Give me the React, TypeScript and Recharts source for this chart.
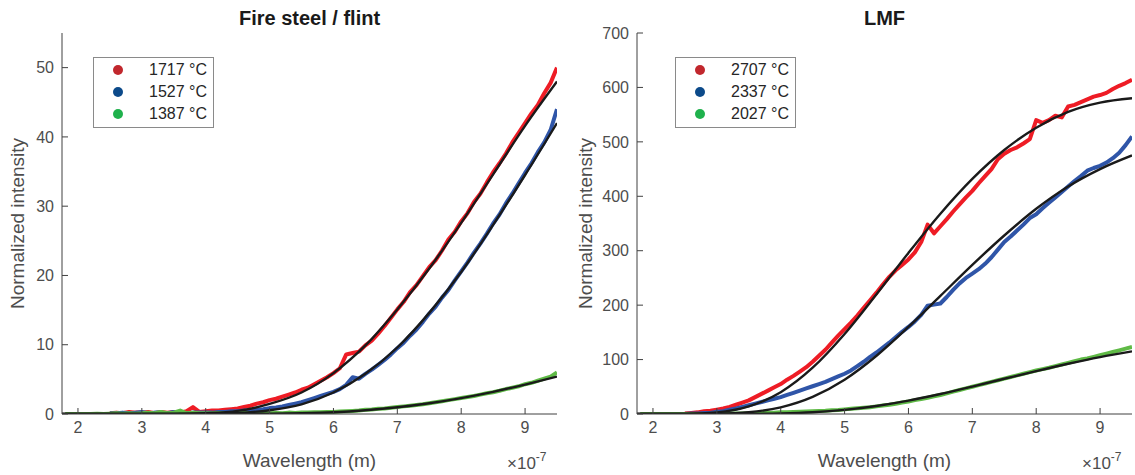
import React from 'react';
import { ComposedChart, Line, XAxis, YAxis, Legend } from 'recharts';

// wavelength grids (×1e-7 m)
const wlData = [2.5,2.6,2.7,2.8,2.9,3.0,3.1,3.2,3.3,3.4,3.5,3.6,3.7,3.8,3.9,4.0,4.1,4.2,4.3,4.4,4.5,4.6,4.7,4.8,4.9,5.0,5.1,5.2,5.3,5.4,5.5,5.6,5.7,5.8,5.9,6.0,6.1,6.2,6.3,6.4,6.5,6.6,6.7,6.8,6.9,7.0,7.1,7.2,7.3,7.4,7.5,7.6,7.7,7.8,7.9,8.0,8.1,8.2,8.3,8.4,8.5,8.6,8.7,8.8,8.9,9.0,9.1,9.2,9.3,9.4,9.5];
const wlGreen = [1.8,1.9,2.0,2.1,2.2,2.3,2.4,2.5,2.6,2.7,2.8,2.9,3.0,3.1,3.2,3.3,3.4,3.5,3.6,3.7,3.8,3.9,4.0,4.1,4.2,4.3,4.4,4.5,4.6,4.7,4.8,4.9,5.0,5.1,5.2,5.3,5.4,5.5,5.6,5.7,5.8,5.9,6.0,6.1,6.2,6.3,6.4,6.5,6.6,6.7,6.8,6.9,7.0,7.1,7.2,7.3,7.4,7.5,7.6,7.7,7.8,7.9,8.0,8.1,8.2,8.3,8.4,8.5,8.6,8.7,8.8,8.9,9.0,9.1,9.2,9.3,9.4,9.5];
const wlFit = [1.75,2.5,3,3.5,4,4.5,5,5.5,6,6.5,7,7.5,8,8.5,9,9.5];
const xTicks = [2,3,4,5,6,7,8,9];

// Fire steel / flint
const fireLabels = ['1717 °C', '1527 °C', '1387 °C'];
const fireYTicks = [0,10,20,30,40,50];
const fireRed = [0.1,0.2,0.1,0.3,0.2,0.2,0.3,0.1,0.3,0.2, 0.3,0.2,0.4,1.0,0.3,0.4,0.5,0.5,0.6,0.7, 0.8,1.0,1.2,1.5,1.7,2.0,2.2,2.5,2.8,3.1, 3.5,3.8,4.3,4.8,5.3,5.9,6.6,8.6,8.8,9.0, 9.9,10.6,11.6,12.7,13.9,15.1,16.2,17.6,18.6,19.9, 21.2,22.2,23.6,25.2,26.3,27.8,29.0,30.6,31.8,33.4, 34.9,36.2,37.6,39.2,40.6,42.0,43.4,44.6,46.3,47.8, 50.0];
const fireBlue = [0.1,0.1,0.2,0.1,0.2,0.3,0.1,0.2,0.2,0.1, 0.3,0.2,0.1,0.2,0.2,0.2,0.2,0.3,0.3,0.4, 0.4,0.5,0.5,0.6,0.7,0.85,0.95,1.1,1.3,1.5, 1.7,2.0,2.3,2.6,2.9,3.2,3.6,4.2,5.3,5.1, 5.8,6.4,7.1,7.8,8.6,9.5,10.3,11.3,12.2,13.3, 14.5,15.5,16.8,17.9,19.3,20.6,21.9,23.3,24.6,26.0, 27.5,28.8,30.4,31.8,33.3,34.8,36.2,37.8,39.2,41.0, 44.0];
const fireGreen = [0,0,0,0,0,0.05,0,0.05,0.1,0.05, 0.1,0.05,0.1,0.2,0.1,0.3,0.1,0.2,0.5,0.1, 0.2,0.1,0.1,0.1,0.15,0.1,0.1,0.1,0.15,0.1, 0.1,0.15,0.1,0.15,0.1,0.2,0.15,0.2,0.2,0.25, 0.25,0.3,0.3,0.35,0.4,0.45,0.5,0.6,0.65,0.75, 0.8,0.9,1.0,1.1,1.2,1.3,1.4,1.55,1.7,1.85, 2.0,2.15,2.3,2.45,2.6,2.8,3.0,3.15,3.35,3.6, 3.8,4.0,4.3,4.5,4.8,5.1,5.4,6.0];
const fireFitRed = [0,0,0,0.02,0.12,0.45,1.45,3.1,5.9,9.9,15.1,21.0,27.6,34.6,41.6,48.0];
const fireFitBlue = [0,0,0,0,0.03,0.15,0.55,1.4,3.1,5.8,9.6,14.6,20.5,27.3,34.5,42.0];
const fireFitGreen = [0,0,0,0,0,0.01,0.04,0.11,0.26,0.55,0.97,1.55,2.3,3.2,4.25,5.4];

// LMF
const lmfLabels = ['2707 °C', '2337 °C', '2027 °C'];
const lmfYTicks = [0,100,200,300,400,500,600,700];
const lmfRed = [1,2,3,5,6,8,10,13,17,21, 25,31,37,43,49,55,63,70,78,86, 96,107,118,131,144,156,168,181,195,209, 223,238,252,264,274,284,297,316,348,332, 345,358,372,385,398,410,424,437,450,468, 478,485,490,497,505,540,535,540,548,545, 565,568,573,578,583,586,590,597,603,608, 614];
const lmfBlue = [0,1,1,2,2,4,5,8,10,13, 16,19,22,25,28,31,35,39,43,47, 51,55,59,64,69,74,80,88,96,105, 113,122,131,141,151,160,170,182,199,201, 203,215,228,240,250,258,266,276,288,302, 316,326,337,348,360,367,378,388,398,408, 418,428,437,447,452,456,462,470,480,494, 510];
const lmfGreen = [0,0,0,0,0,0,0,0,0,0, 0,0,0.5,0.5,1,1,1,1.5,1.5,2, 2,2.5,3,3,3.5,4,4.5,5,5.5,6, 7,7.5,8.5,9.5,10.5,11.5,12.5,14,15.5,17, 19,21,23,25.5,27.5,30,32.5,35,38,41, 44,47,50,53,56,59,62,65,68,71, 74,77,80,82.5,85,88,91,94,97,100, 102,105,108,111,114,117,120,123];
const lmfFitRed = [0,0.3,3,14,40,85,147,220,296,368,432,485,526,555,572,580];
const lmfFitBlue = [0,0,0.5,3.3,12.3,31.5,63,107,160,217,274,328,377,418,450,475];
const lmfFitGreen = [0,0,0,0.2,1.0,3.2,7.6,14.7,24.5,36.7,50.4,64.7,78.9,92.3,104.5,115];

const dataColors = ['#ee1c25', '#2f55a8', '#5fba46'];
const legendColors = ['#c1272d', '#0c4a8a', '#1fb14c'];
const FONT = '"Liberation Sans", Arial, Helvetica, sans-serif';
const AXIS = '#404040';
const TXT = '#4d4d4d';

const pts = (xs: number[], ys: number[]) => xs.map((x, i) => ({ x, y: ys[i] }));

function LegendBox({ labels }: { labels: string[] }) {
  return (
    <div style={{ width: 121, height: 71, border: '1px solid #8a8a8a', background: '#fff', boxSizing: 'border-box', position: 'relative', fontFamily: FONT, fontSize: 16, color: '#262626' }}>
      {labels.map((l, i) => (
        <div key={i} style={{ position: 'absolute', left: 0, top: 1 + i * 22, height: 22, display: 'flex', alignItems: 'center', whiteSpace: 'nowrap' }}>
          <span style={{ display: 'inline-block', width: 10, height: 10, borderRadius: 5, background: legendColors[i], marginLeft: 19 }} />
          <span style={{ marginLeft: 26 }}>{l}</span>
        </div>
      ))}
    </div>
  );
}

type PanelProps = {
  left: number; title: string; yMax: number; yTicks: number[]; labels: string[];
  meas: { x: number; y: number }[][]; fits: { x: number; y: number }[][]; legendLeft: number; labelOffset: number;
};

function Panel({ left, title, yMax, yTicks, labels, meas, fits, legendLeft, labelOffset }: PanelProps) {
  const W = 575, H = 475;
  return (
    <div style={{ position: 'absolute', left, top: 0, width: W, height: H, fontFamily: FONT }}>
      <div style={{ position: 'absolute', left: 62, width: 495, top: 8, lineHeight: '20px', textAlign: 'center', fontWeight: 'bold', fontSize: 20, color: '#1a1a1a' }}>{title}</div>
      <ComposedChart width={W} height={H} margin={{ top: 33, right: 18, bottom: 11, left: 12 }}>
        <XAxis xAxisId="b" type="number" dataKey="x" domain={[1.75, 9.5]} ticks={xTicks} allowDataOverflow orientation="bottom" height={50}
          tickSize={-6} tickMargin={14} stroke={AXIS} tick={{ fill: TXT, fontSize: 16 }}
          label={{ value: 'Wavelength (m)', position: 'insideBottom', offset: -3, style: { fontSize: 19, fill: TXT } }} />
        <XAxis xAxisId="t" type="number" dataKey="x" domain={[1.75, 9.5]} ticks={xTicks} allowDataOverflow orientation="top" height={0}
          tickSize={-6} stroke={AXIS} tick={false} />
        <YAxis yAxisId="l" type="number" domain={[0, yMax]} ticks={yTicks} allowDataOverflow width={50}
          tickSize={-6} tickMargin={14} stroke={AXIS} tick={{ fill: TXT, fontSize: 16 }}
          label={{ value: 'Normalized intensity', angle: -90, position: 'insideLeft', offset: labelOffset, style: { textAnchor: 'middle', fontSize: 19, fill: TXT } }} />
        <YAxis yAxisId="r" orientation="right" type="number" domain={[0, yMax]} ticks={yTicks} allowDataOverflow width={0}
          tickSize={-6} stroke={AXIS} tick={false} />
        {meas.map((m, i) => (
          <Line key={'m' + i} xAxisId="b" yAxisId="l" data={m} dataKey="y" type="linear" stroke={dataColors[i]} strokeWidth={4}
            dot={false} isAnimationActive={false} strokeLinejoin="round" legendType="none" />
        ))}
        {fits.map((f, i) => (
          <Line key={'f' + i} xAxisId="b" yAxisId="l" data={f} dataKey="y" type="monotone" stroke="#1a1a1a" strokeWidth={2.4}
            dot={false} isAnimationActive={false} legendType="none" />
        ))}
        <Legend layout="vertical" align="center" verticalAlign="middle"
          wrapperStyle={{ left: legendLeft, top: 57, width: 121, height: 71 }}
          content={() => <LegendBox labels={labels} />} />
      </ComposedChart>
      <div style={{ position: 'absolute', left: 507, top: 456, lineHeight: '16px', fontSize: 17, color: TXT, whiteSpace: 'nowrap' }}>
        ×10<span style={{ fontSize: 12, position: 'relative', top: -8 }}>-7</span>
      </div>
    </div>
  );
}

export default function App() {
  return (
    <div style={{ position: 'absolute', left: 0, top: 0, width: 1135, height: 475, background: '#fff' }}>
      <Panel left={0} title="Fire steel / flint" yMax={55} yTicks={fireYTicks} labels={fireLabels} legendLeft={93} labelOffset={5}
        meas={[pts(wlData, fireRed), pts(wlData, fireBlue), pts(wlGreen, fireGreen)]}
        fits={[pts(wlFit, fireFitRed), pts(wlFit, fireFitBlue), pts(wlFit, fireFitGreen)]} />
      <Panel left={575} title="LMF" yMax={700} yTicks={lmfYTicks} labels={lmfLabels} legendLeft={100} labelOffset={-2}
        meas={[pts(wlData, lmfRed), pts(wlData, lmfBlue), pts(wlGreen, lmfGreen)]}
        fits={[pts(wlFit, lmfFitRed), pts(wlFit, lmfFitBlue), pts(wlFit, lmfFitGreen)]} />
    </div>
  );
}
